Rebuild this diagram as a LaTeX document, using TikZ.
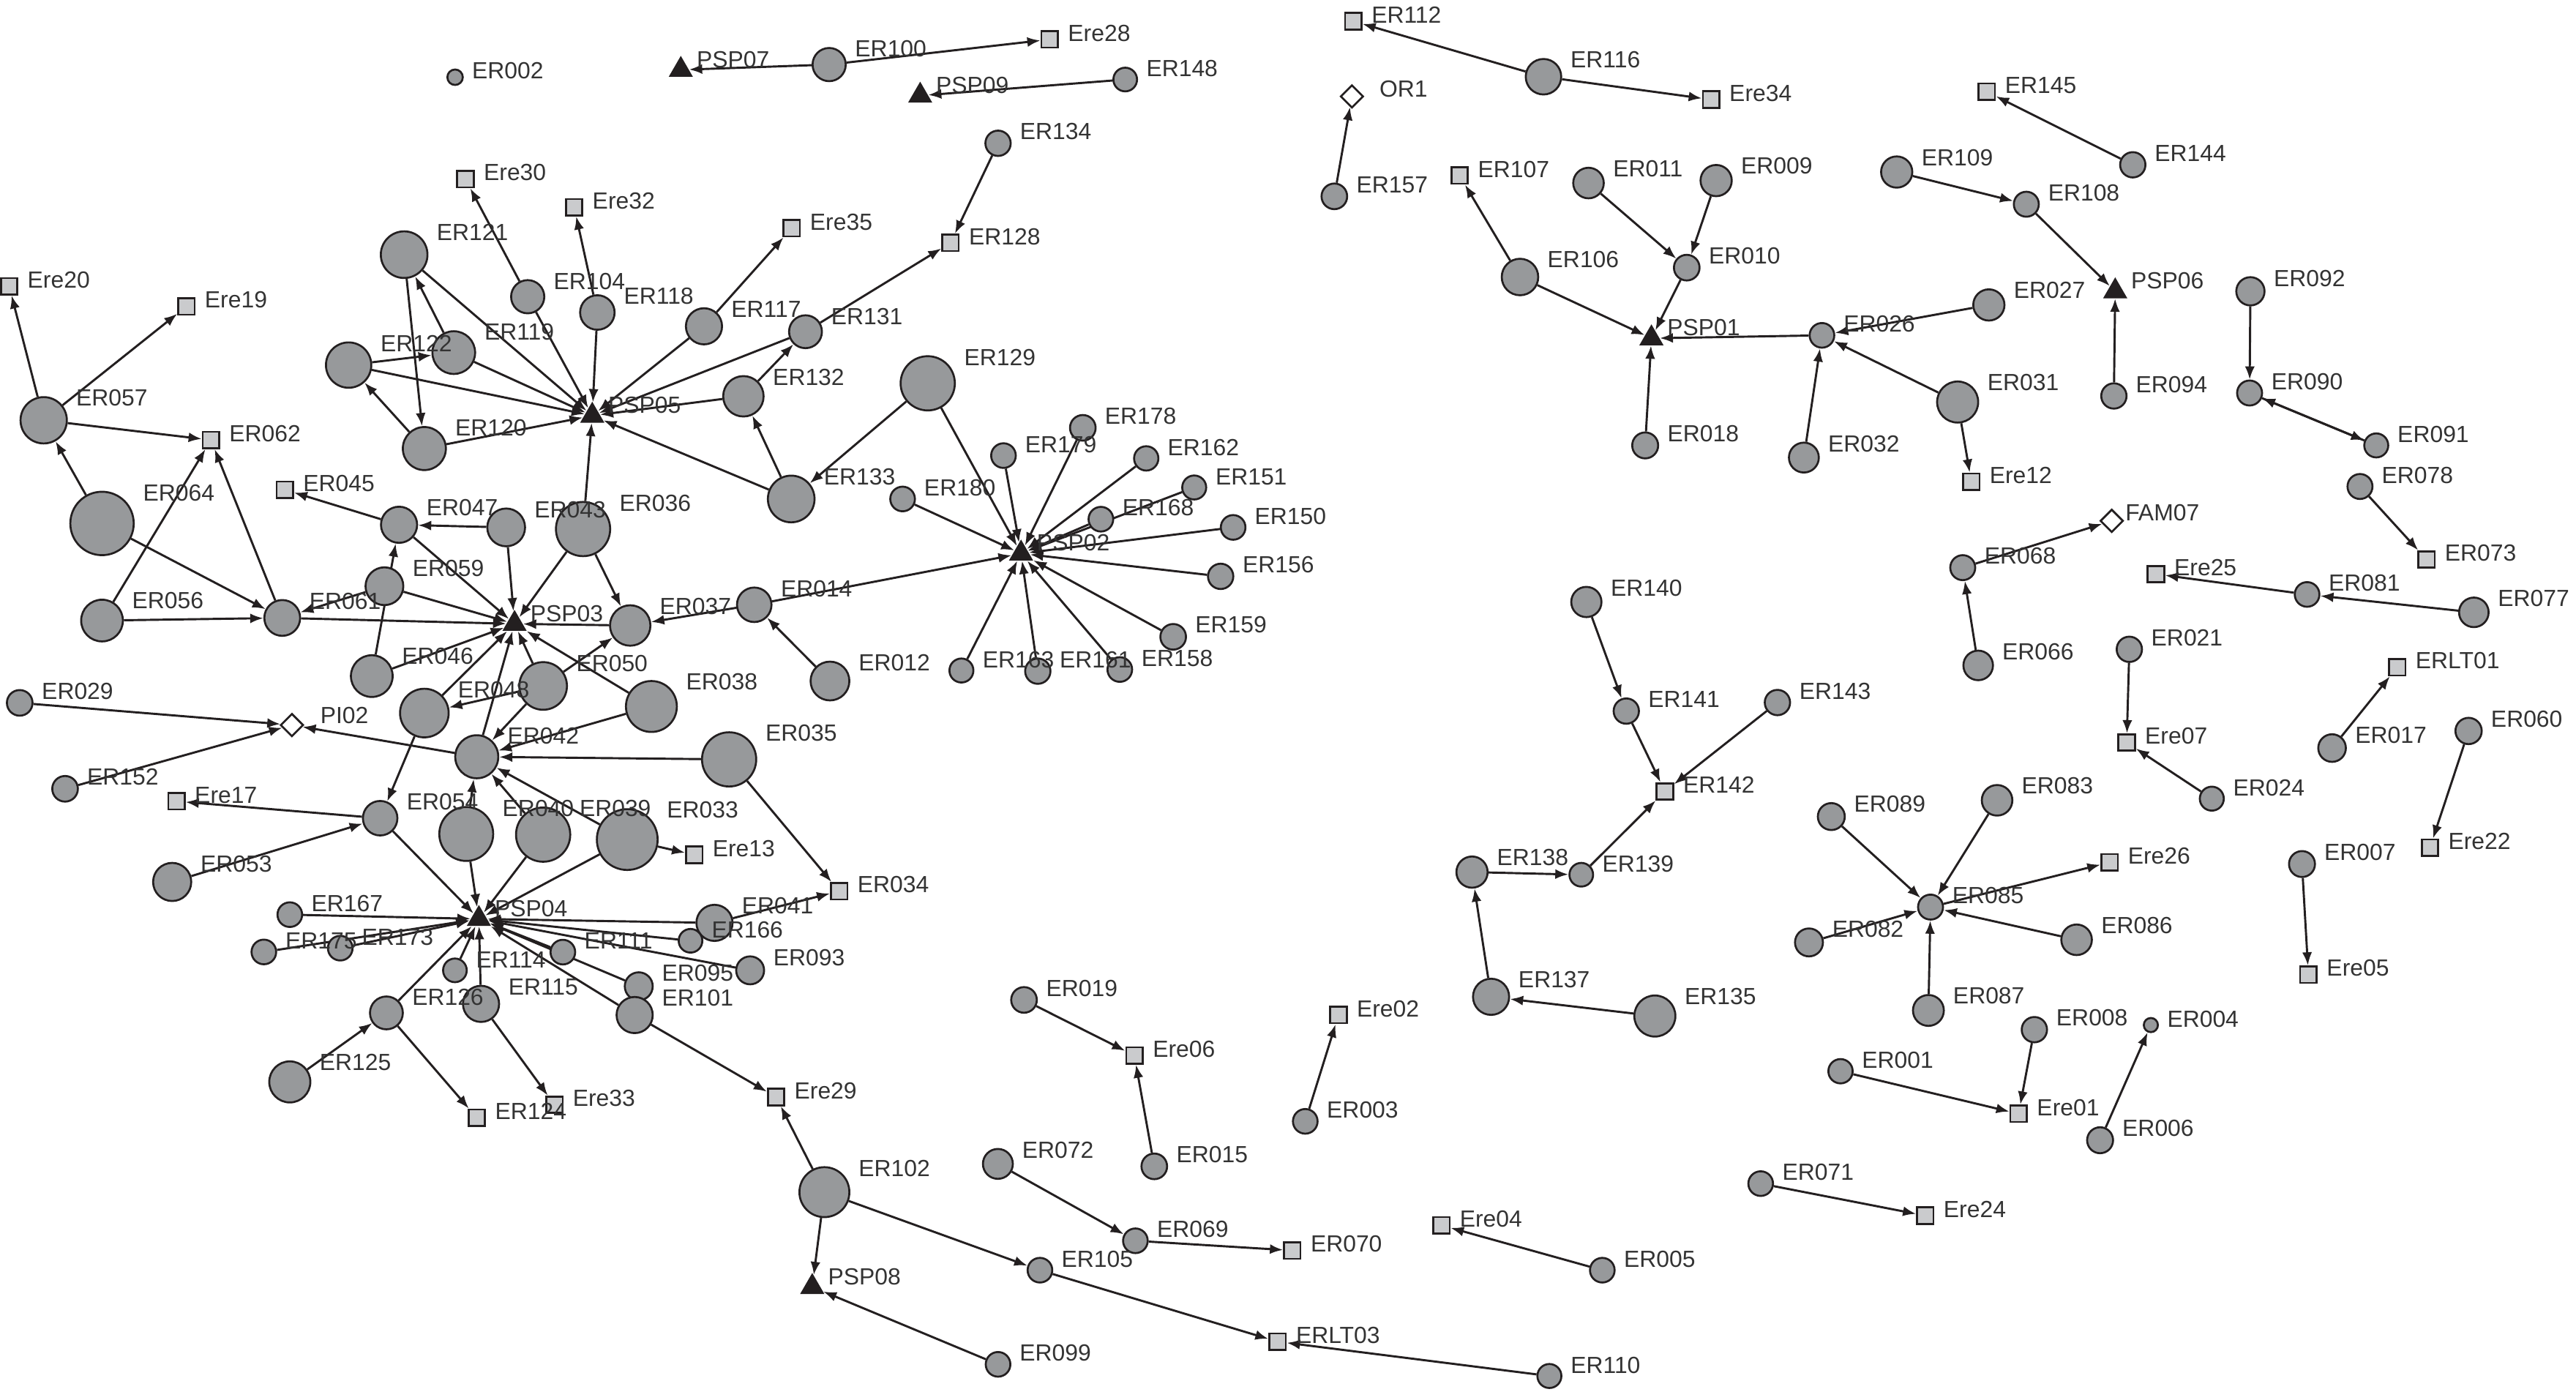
\documentclass[tikz,border=0pt]{standalone}
\usepackage{fontspec}
\setmainfont{Liberation Sans}
\usetikzlibrary{shapes.geometric,arrows.meta,backgrounds}
\pgfdeclarelayer{foreground}
\pgfsetlayers{background,main,foreground}
\definecolor{edgecol}{HTML}{231F20}
\definecolor{ergray}{HTML}{97999B}
\definecolor{eregray}{HTML}{CACBCD}
\definecolor{lbltext}{HTML}{333333}
\begin{document}
\begin{tikzpicture}[x=1pt,y=-1pt,
er/.style={circle, draw=edgecol, line width=1.2pt, fill=ergray, inner sep=0pt},
ere/.style={rectangle, draw=edgecol, line width=1.2pt, fill=eregray, inner sep=0pt, minimum size=10pt},
psp/.style={regular polygon, regular polygon sides=3, fill=edgecol, inner sep=0pt, minimum size=17pt},
grp/.style={diamond, draw=edgecol, line width=1.2pt, fill=white, inner sep=0pt, minimum size=14pt},
lbl/.style={anchor=base west, inner sep=0pt, text=lbltext, font=\fontsize{14.2}{16}\selectfont},
link/.style={draw=edgecol, line width=1.3pt, -{Latex[length=8pt,width=6pt]}}
]
\useasboundingbox (0,0) rectangle (1568,847);

% actors (circles): name/x/y/radius
\foreach \n/\x/\y/\r in {
ER002/277/47/5.2, ER121/246/155/14.7, ER104/321.2/180.6/10.6, ER118/363.6/190.2/11,
ER119/276.2/214.6/13.5, ER122/212.2/222.2/14.3, ER120/258.3/273/13.6, ER057/26.6/255.8/14.6,
ER100/504.7/39.3/10.6, ER148/684.9/48.4/7.7, ER134/607.5/87.2/8.2, ER117/428.5/198.6/11.5,
ER131/490.3/201.9/10.5, ER132/452.5/241.2/12.8, ER129/564.7/233.3/17, ER178/659.1/260.4/8.3,
ER179/610.8/277.3/8, ER162/697.7/279/7.9, ER133/481.6/303.7/14.7, ER180/549.4/303.7/8,
ER151/726.9/296.7/7.8, ER168/670.1/316/8, ER150/750.6/321/8, ER156/743/350.8/8.2,
ER014/459.1/368.1/11, ER159/714.1/387.6/8.3, ER012/505.2/414.5/12.3, ER163/585.2/408.1/7.8,
ER161/631.7/408.5/8.2, ER158/681.6/407.5/8, ER038/396.5/430/16, ER035/443.8/462.2/17,
ER116/939.5/46.7/11.3, ER157/812.2/119.5/8.3, ER011/966.9/111.4/9.8, ER009/1044.6/109.9/10,
ER106/925.2/168.6/11.6, ER010/1026.7/162.9/8.3, ER026/1109/204.1/8, ER018/1001.4/271.1/8.4,
ER032/1098/278.5/9.6, ER109/1154.5/104.7/10, ER144/1298.2/100.3/8.2, ER108/1233.4/124.3/8.1,
ER092/1369.8/177.3/9.1, ER027/1210.6/185.6/10, ER031/1191.6/244.7/13, ER094/1286.7/241/8.2,
ER090/1369.3/239.2/8.1, ER091/1446.4/271.1/7.8, ER078/1436.5/296.1/8.1, ER068/1194.7/345.5/8.1,
ER081/1404.3/361.8/8, ER077/1505.8/372.7/9.5, ER066/1204.1/405/9.5, ER021/1296.1/395.2/8.2,
ER017/1419.5/455.3/8.9, ER060/1502.6/444.9/8.5, ER024/1346.3/486.1/7.8, ER083/1215.6/487.1/9.8,
ER007/1401.2/525.9/8.4, ER085/1175.1/552.1/8.1, ER086/1264/572/9.8, ER087/1173.8/615/9.9,
ER008/1238.3/626.7/8.2, ER004/1309.2/623.9/4.8, ER006/1278.3/694/8.4, ER140/965.6/366.4/9.7,
ER141/989.9/432.8/8.2, ER143/1081.9/427.6/8.2, ER089/1114.7/497/8.7, ER138/896/530.8/10,
ER139/962.5/532.4/7.7, ER082/1101.1/573.6/9, ER137/907.6/606.7/11.5, ER135/1007.3/618.4/13,
ER003/794.5/682.5/8, ER001/1120.3/652/7.9, ER071/1071.7/720.4/8, ER005/975.3/773.1/8,
ER110/943.1/837.5/7.8, ER093/456.6/590.6/9, ER095/388.8/600.3/9, ER101/386.3/617.8/11.5,
ER019/623.3/608.6/8.3, ER072/607.4/708.4/9.6, ER015/702.6/709.9/8.3, ER102/501.8/725.6/15.7,
ER069/691.1/755.2/8, ER105/633/773.1/8, ER099/607.5/830.4/8, ER064/62.1/318.6/19.8,
ER047/242.9/319.4/11.5, ER043/308.1/321/12, ER036/354.9/322/17, ER059/234/356.8/12,
ER056/62.1/377.7/13.2, ER061/171.8/376.1/11.4, ER037/383.6/380.7/12.8, ER046/226.3/411.5/13.2,
ER050/330.6/417.5/15, ER048/258.3/434/15.3, ER029/12/427.8/8.3, ER042/290.2/460.6/13.6,
ER152/39.6/480.1/8.3, ER054/231.4/498/11, ER040/283.8/507.6/16.9, ER039/330.6/508/17,
ER033/381.8/511/19, ER053/104.8/536.8/12.1, ER167/176.4/556.7/8, ER175/160.6/579.4/8,
ER173/207.1/577.1/8, ER114/276.9/590.6/7.7, ER111/342.6/579.5/8, ER115/292.8/611/11.5,
ER126/235.2/616.5/10.5, ER125/176.4/658.5/13, ER041/434.9/561.7/11.5, ER166/420.3/572.6/7.7}{
  \node[er, minimum size=2*\r-1] (\n) at (\x,\y) {};
  \begin{pgfonlayer}{foreground}
    \node[lbl] at ({\x+\r+5},{\y-\r+6}) {\n};
  \end{pgfonlayer}
}

% events (squares)
\foreach \n/\x/\y in {
Ere30/283.3/109, Ere32/349.5/126.1, Ere20/5.6/174.2, Ere19/113.5/186.5, ER062/128.4/267.8,
Ere28/638.9/24, Ere35/481.9/138.9, ER128/578.6/147.8, ER112/823.7/12.9, Ere34/1041.5/60.6,
ER107/888.4/106.8, ER145/1209.3/55.8, Ere12/1199.9/293.2, ER073/1477/340.5, Ere25/1312.3/349.4,
ERLT01/1459.2/406.1, Ere07/1294.5/451.9, Ere22/1479.1/515.9, Ere26/1284.1/524.9, Ere05/1405.1/593.2,
Ere01/1228.7/677.9, Ere24/1171.9/739.9, ER142/1013.4/481.7, Ere02/814.7/617.8, Ere04/877.4/745.8,
ER070/786.6/761.1, ERLT03/777.7/816.6, Ere06/690.5/642.4, Ere29/472.4/667.7, ER045/173.4/298.1,
Ere17/107.4/487.7, ER034/510.8/542.4, Ere13/422.6/520.3, ER124/290.2/680.3, Ere33/337.5/672.4}{
  \node[ere] (\n) at (\x,\y) {};
  \begin{pgfonlayer}{foreground}
    \node[lbl] at ({\x+11},{\y+1}) {\n};
  \end{pgfonlayer}
}

% programmes (triangles)
\foreach \n/\x/\y in {
PSP07/414.4/42.5, PSP09/560.1/58.2, PSP05/360.5/253, PSP03/313.2/379.7, PSP04/291.5/559.3,
PSP02/621.5/336.9, PSP01/1005.2/205.9, PSP06/1287.5/177.3, PSP08/494.4/783.3}{
  \node[psp] (\n) at (\x,\y) {};
  \begin{pgfonlayer}{foreground}
    \node[lbl] at ({\x+9.5},{\y-1.5}) {\n};
  \end{pgfonlayer}
}

% groups (diamonds)
\node[grp] (OR1) at (822.9,58.7) {};
\node[grp] (PI02) at (177.7,441.3) {};
\node[grp] (FAM07) at (1285.4,317) {};
\begin{pgfonlayer}{foreground}
\node[lbl] at (839.5,59) {OR1};
\node[lbl] at (194.8,440.3) {PI02};
\node[lbl] at (1293.5,317) {FAM07};
\end{pgfonlayer}

% ties
\begin{scope}[on background layer]
\foreach \a/\b in {
ER057/Ere20, ER057/Ere19, ER057/ER062, ER064/ER057, ER056/ER062, ER061/ER062, ER064/ER061,
ER056/ER061, ER059/ER061, ER061/PSP03, ER047/ER045, ER043/ER047, ER046/ER047, ER047/PSP03,
ER043/PSP03, ER036/PSP03, ER036/ER037, ER059/PSP03, ER037/PSP03, ER046/PSP03, ER048/PSP03,
ER050/ER048, ER050/ER037, ER050/PSP03, ER038/PSP03, ER042/PSP03, ER050/ER042, ER038/ER042,
ER035/ER042, ER040/ER042, ER039/ER042, ER033/ER042, ER042/PI02, ER029/PI02, ER152/PI02,
ER048/ER054, ER054/Ere17, ER053/ER054, ER054/PSP04, ER040/PSP04, ER039/PSP04, ER033/PSP04,
ER167/PSP04, ER175/PSP04, ER173/PSP04, ER126/PSP04, ER114/PSP04, ER115/PSP04, ER111/PSP04,
ER095/PSP04, ER101/PSP04, ER093/PSP04, ER041/PSP04, ER166/PSP04, ER125/ER126, ER126/ER124,
ER115/Ere33, ER041/ER034, ER035/ER034, ER033/Ere13, ER101/Ere29, ER102/Ere29, ER102/PSP08,
ER099/PSP08, ER102/ER105, ER105/ERLT03, ER110/ERLT03, ER072/ER069, ER069/ER070, ER019/Ere06,
ER015/Ere06, ER003/Ere02, ER005/Ere04, ER071/Ere24, ER001/Ere01, ER008/Ere01, ER006/ER004,
ER007/Ere05, ER060/Ere22, ER017/ERLT01, ER024/Ere07, ER021/Ere07, ER077/ER081, ER081/Ere25,
ER078/ER073, ER066/ER068, ER068/FAM07, ER092/ER090, ER090/ER091, ER091/ER090, ER094/PSP06,
ER108/PSP06, ER109/ER108, ER144/ER145, ER031/Ere12, ER031/ER026, ER027/ER026, ER032/ER026,
ER026/PSP01, ER018/PSP01, ER106/PSP01, ER010/PSP01, ER011/ER010, ER009/ER010, ER106/ER107,
ER157/OR1, ER116/ER112, ER116/Ere34, ER140/ER141, ER141/ER142, ER143/ER142, ER139/ER142,
ER138/ER139, ER137/ER138, ER135/ER137, ER089/ER085, ER083/ER085, ER085/Ere26, ER086/ER085,
ER087/ER085, ER082/ER085, ER129/ER133, ER129/PSP02, ER133/PSP05, ER133/ER132, ER180/PSP02,
ER179/PSP02, ER178/PSP02, ER162/PSP02, ER168/PSP02, ER151/PSP02, ER150/PSP02, ER156/PSP02,
ER159/PSP02, ER158/PSP02, ER161/PSP02, ER163/PSP02, ER012/ER014, ER014/PSP02, ER014/ER037,
ER121/PSP05, ER119/ER121, ER121/ER120, ER122/ER119, ER120/ER122, ER122/PSP05, ER119/PSP05,
ER120/PSP05, ER104/PSP05, ER104/Ere30, ER118/PSP05, ER118/Ere32, ER117/PSP05, ER117/Ere35,
ER131/PSP05, ER131/ER128, ER134/ER128, ER132/ER131, ER132/PSP05, ER036/PSP05, ER100/PSP07,
ER100/Ere28, ER148/PSP09}
  \draw[link] (\a) -- (\b);
\end{scope}
\end{tikzpicture}
\end{document}
